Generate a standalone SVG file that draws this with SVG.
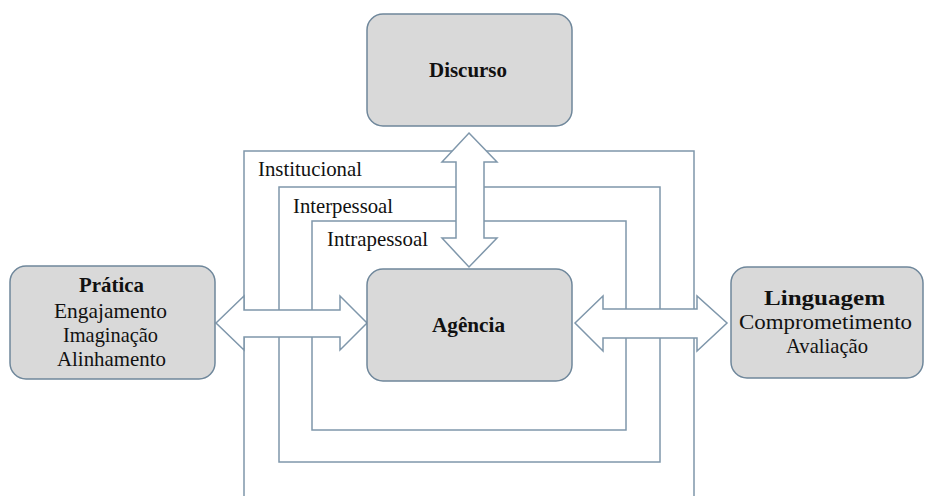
<svg xmlns="http://www.w3.org/2000/svg" width="925" height="496" viewBox="0 0 925 496">
<style>
.frame{fill:none;stroke:#7f97ab;stroke-width:1.5}
.box{fill:#d9d9d9;stroke:#6f879b;stroke-width:1.5}
.arrow{fill:#ffffff;stroke:#7f97ab;stroke-width:1.5;stroke-linejoin:miter}
.t{font-family:"Liberation Serif","Times New Roman",serif;font-size:21px;fill:#111}
.b{font-weight:bold}
.c{text-anchor:middle}
</style>
<rect width="925" height="496" fill="#ffffff"/>
<g id="frames">
<path class="frame" d="M244,500 V151 H694 V500"/>
<rect class="frame" x="279" y="187" width="381" height="275"/>
<rect class="frame" x="312" y="221" width="314" height="209"/>
<text class="t" x="258" y="176" textLength="104" lengthAdjust="spacingAndGlyphs">Institucional</text>
<text class="t" x="293" y="213" textLength="100" lengthAdjust="spacingAndGlyphs">Interpessoal</text>
<text class="t" x="327" y="246" textLength="101" lengthAdjust="spacingAndGlyphs">Intrapessoal</text>
</g>
<g id="connectors">
<polygon class="arrow" points="469,133 497,162 484,162 484,238 497,238 469,267 442,238 456,238 456,162 442,162"/>
<polygon class="arrow" points="216,323 244,296 244,310 340,310 340,296 367,323 340,350 340,337 244,337 244,350"/>
<polygon class="arrow" points="575,323 603,296 603,309 697,309 697,296 727,323 697,351 697,338 603,338 603,351"/>
</g>
<g id="discurso">
<rect class="box" x="367" y="14" width="205" height="112" rx="16"/>
<text class="t b c" x="468" y="77" textLength="78" lengthAdjust="spacingAndGlyphs">Discurso</text>
</g>
<g id="agencia">
<rect class="box" x="367" y="269" width="205" height="112" rx="16"/>
<text class="t b c" x="468.5" y="332" textLength="73" lengthAdjust="spacingAndGlyphs">Agência</text>
</g>
<g id="pratica">
<rect class="box" x="10" y="266" width="205" height="113" rx="16"/>
<text class="t b c" x="111.5" y="292" textLength="65" lengthAdjust="spacingAndGlyphs">Prática</text>
<text class="t c" x="110.5" y="318" textLength="113" lengthAdjust="spacingAndGlyphs">Engajamento</text>
<text class="t c" x="110.5" y="342" textLength="95" lengthAdjust="spacingAndGlyphs">Imaginação</text>
<text class="t c" x="111.5" y="366" textLength="109" lengthAdjust="spacingAndGlyphs">Alinhamento</text>
</g>
<g id="linguagem">
<rect class="box" x="731" y="267" width="192" height="111" rx="16"/>
<text class="t b c" x="824.5" y="305" textLength="121" lengthAdjust="spacingAndGlyphs">Linguagem</text>
<text class="t c" x="825.5" y="329" textLength="173" lengthAdjust="spacingAndGlyphs">Comprometimento</text>
<text class="t c" x="827" y="353" textLength="82" lengthAdjust="spacingAndGlyphs">Avaliação</text>
</g>
</svg>
